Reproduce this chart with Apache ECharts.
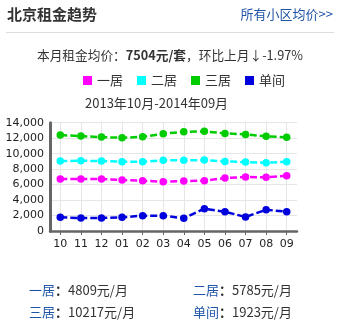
<!DOCTYPE html>
<html><head><meta charset="utf-8">
<script src="https://cdn.jsdelivr.net/npm/echarts@6/dist/echarts.min.js"></script>
<style>html,body{margin:0;padding:0;background:#fff}#c{width:344px;height:323px}</style>
</head><body><div id="c"></div>
<script>
const categories = ['10','11','12','01','02','03','04','05','06','07','08','09'];
const oneRoom   = [6720,6720,6720,6590,6500,6370,6460,6500,6850,6980,6940,7140];
const twoRoom   = [9040,9080,9040,8950,8950,9130,9130,9170,9000,8910,8820,8950];
const threeRoom = [12400,12270,12140,12050,12180,12570,12830,12880,12620,12490,12240,12110];
const single    = [1770,1680,1680,1770,1980,1980,1640,2880,2490,1810,2750,2490];
const seriesNames = ['一居','二居','三居','单间'];
const seriesColors = ['#ff00ff','#00ffff','#00cc00','#0000dd'];

const CJK = '"Noto Sans CJK SC", sans-serif';
const chart = echarts.init(document.getElementById('c'), null, {renderer:'canvas'});
const mk = (name, data, color) => ({
  name, type:'line', data, symbol:'circle', symbolSize:7.5,
  itemStyle:{color}, lineStyle:{color, width:2.5, type:[7,3]}, animation:false
});
const rowStyle = {l:{font:'13px '+CJK, fill:'#1f55a8'}, v:{font:'13px '+CJK, fill:'#333'}, c:{font:'bold 13px '+CJK, fill:'#333'}};
chart.setOption({
  animation:false,
  textStyle:{fontFamily:CJK},
  legend:{
    top:69, left:78, itemWidth:9, itemHeight:9, itemGap:14,
    icon:'rect', textStyle:{fontSize:13, color:'#333', fontFamily:CJK},
    data:seriesNames
  },
  grid:{left:50, right:47, top:122.7, bottom:92},
  xAxis:{
    type:'category', data:categories, boundaryGap:true,
    axisLine:{lineStyle:{color:'#666', width:2.5}},
    axisTick:{show:true, alignWithLabel:true, length:4, lineStyle:{color:'#666'}},
    axisLabel:{fontFamily:'"DejaVu Sans", Verdana, sans-serif', fontSize:11, color:'#222', margin:8},
    splitLine:{show:true, alignWithLabel:true, lineStyle:{color:'#e6e6e6'}}
  },
  yAxis:{
    type:'value', min:0, max:14000, interval:2000,
    axisLine:{show:true, lineStyle:{color:'#666', width:3}},
    axisTick:{show:false},
    axisLabel:{fontFamily:'"DejaVu Sans", Verdana, sans-serif', fontSize:11, color:'#222', margin:6,
      formatter:v=>v.toLocaleString('en-US')},
    splitLine:{show:true, lineStyle:{color:'#e6e6e6'}}
  },
  series:[
    mk(seriesNames[0], oneRoom, seriesColors[0]),
    mk(seriesNames[1], twoRoom, seriesColors[1]),
    mk(seriesNames[2], threeRoom, seriesColors[2]),
    mk(seriesNames[3], single, seriesColors[3])
  ],
  graphic:[
    {type:'text', left:7, top:7, style:{text:'北京租金趋势', font:'bold 15px '+CJK, fill:'#333'}},
    {type:'text', right:11, top:8, style:{text:'所有小区均价>>', font:'13px '+CJK, fill:'#1f55a8'}},
    {type:'rect', shape:{x:6, y:32, width:328, height:1}, style:{fill:'#dddddd'}},
    {type:'text', left:37, top:49, style:{
      rich:{
        a:{font:'12.7px '+CJK, fill:'#333'},
        b:{font:'bold 12.7px '+CJK, fill:'#333'}
      },
      text:'{a|本月租金均价：}{b|7504元/套}{a|，环比上月↓-1.97%}'
    }},
    {type:'text', left:85, top:97, style:{text:'2013年10月-2014年09月', font:'13px '+CJK, fill:'#333'}},
    {type:'text', left:29, top:284, style:{rich:rowStyle, text:'{l|一居}{c|：}{v|4809元/月}'}},
    {type:'text', left:193, top:284, style:{rich:rowStyle, text:'{l|二居}{c|：}{v|5785元/月}'}},
    {type:'text', left:29, top:306, style:{rich:rowStyle, text:'{l|三居}{c|：}{v|10217元/月}'}},
    {type:'text', left:193, top:306, style:{rich:rowStyle, text:'{l|单间}{c|：}{v|1923元/月}'}}
  ]
});
</script></body></html>
